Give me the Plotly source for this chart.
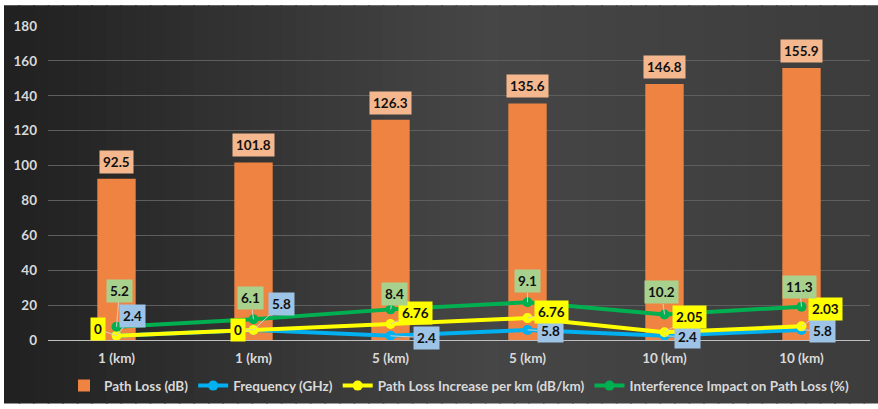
import numpy as np
import plotly.graph_objects as go

# ---- data ----
categories = ["1 (km)", "1 (km)", "5 (km)", "5 (km)", "10 (km)", "10 (km)"]
path_loss = [92.5, 101.8, 126.3, 135.6, 146.8, 155.9]
frequency = [2.4, 5.8, 2.4, 5.8, 2.4, 5.8]
loss_increase = [0, 0, 6.76, 6.76, 2.05, 2.03]
interference = [5.2, 6.1, 8.4, 9.1, 10.2, 11.3]
y_ticks = [0, 20, 40, 60, 80, 100, 120, 140, 160, 180]

# label offsets (pixels) for the line data callouts
off_freq = [(16, -20), (28, -26), (36, 2), (23, 1), (23, 1), (21, 1)]
off_inc = [(-19, -7), (-16, 0), (25, -11), (24, -6), (25, -15), (24, -17)]
off_int = [(3, -36), (-3, -21), (4, -15), (0, -21), (-3, -22), (-2, -20)]

x = list(range(len(categories)))
# stacked line chart (as in the original)
stack = np.cumsum(np.array([frequency, loss_increase, interference]), axis=0)

FONT = "Lato"
fig = go.Figure()
fig.add_trace(go.Bar(x=x, y=path_loss, name="Path Loss (dB)", width=0.28,
                     marker=dict(color="#EF8442", line=dict(width=0))))
series = [
    ("Frequency (GHz)", "#00B0F0", frequency, stack[0], off_freq, "#9DC3E6"),
    ("Path Loss Increase per km (dB/km)", "#FFFF00", loss_increase, stack[1], off_inc, "#FFFF00"),
    ("Interference Impact on Path Loss (%)", "#00B050", interference, stack[2], off_int, "#A9D18E"),
]
for name, col, raw, ys, offs, box in series:
    fig.add_trace(go.Scatter(x=x, y=ys, name=name, mode="lines+markers",
                             line=dict(color=col, width=4),
                             marker=dict(color=col, size=10)))

annotations = []
for i, v in enumerate(path_loss):
    annotations.append(dict(x=i, y=v, text=f"{v:g}", showarrow=False, yanchor="bottom",
                            yshift=5, bgcolor="#F5B88E", borderpad=3,
                            font=dict(family=FONT, size=13.5, color="#111111", weight=700)))
for name, col, raw, ys, offs, box in series:
    for i, (v, yy) in enumerate(zip(raw, ys)):
        annotations.append(dict(x=i, y=yy, text=f"{v:g}", showarrow=True, arrowhead=0,
                                arrowwidth=1, arrowcolor="#d0d0d0", ax=offs[i][0], ay=offs[i][1],
                                bgcolor=box, borderpad=3,
                                font=dict(family=FONT, size=13.5, color="#111111", weight=700)))

# gradient background built from strips
shapes = []
n = 60
x0p, x1p = (4 - 48) / 822, (878 - 48) / 822
y0p, y1p = (342 - 406) / 316, (342 - 5) / 316
stops = [(0.0, 32), (0.55, 70), (1.0, 60)]
for k in range(n):
    t = (k + 0.5) / n
    for (a, ca), (b, cb) in zip(stops[:-1], stops[1:]):
        if a <= t <= b:
            c = int(round(ca + (cb - ca) * (t - a) / (b - a)))
    xa = x0p + (x1p - x0p) * k / n
    xb = x0p + (x1p - x0p) * (k + 1) / n + 0.002
    shapes.append(dict(type="rect", xref="paper", yref="paper", x0=xa, x1=xb, y0=y0p, y1=y1p,
                       fillcolor=f"rgb({c},{c},{c})", line=dict(width=0), layer="below"))

fig.update_layout(
    width=878, height=409,
    margin=dict(l=48, r=8, t=26, b=67),
    paper_bgcolor="white", plot_bgcolor="rgba(0,0,0,0)",
    shapes=shapes, annotations=annotations,
    showlegend=True,
    legend=dict(orientation="h", x=0.5, xanchor="center", y=-0.146, yanchor="middle",
                font=dict(family=FONT, size=13.5, color="#d9d9d9", weight=700),
                bgcolor="rgba(0,0,0,0)", itemwidth=30, tracegroupgap=0),
    xaxis=dict(tickvals=x, ticktext=categories, range=[-0.5, 5.5], showgrid=False,
               showline=True, linecolor="#bfbfbf", linewidth=1, ticks="",
               tickfont=dict(family=FONT, size=13.5, color="#d9d9d9", weight=700),
               ticklabelstandoff=6, zeroline=False),
    yaxis=dict(tickvals=y_ticks, range=[0, 180], showgrid=True, gridcolor="#5e5e5e",
               gridwidth=1, zeroline=False, showline=False, ticks="",
               tickfont=dict(family=FONT, size=13.5, color="#d9d9d9", weight=700),
               ticklabelstandoff=10),
)
fig.write_html("out.html")
